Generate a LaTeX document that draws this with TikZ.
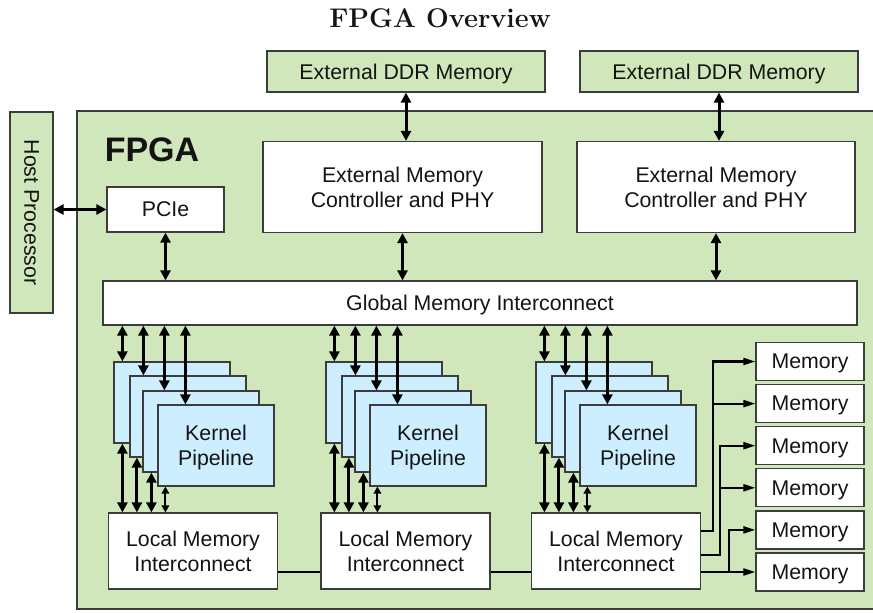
\documentclass[tikz,border=0pt]{standalone}
\usepackage{fontspec}
\newfontfamily\hv{Liberation Sans}
\usetikzlibrary{arrows.meta,calc}
\definecolor{fgreen}{RGB}{207,231,186}
\definecolor{kblue}{RGB}{204,238,255}
\definecolor{edgec}{RGB}{60,60,60}
\definecolor{txt}{RGB}{20,20,20}
\begin{document}
\begin{tikzpicture}[x=1pt,y=-1pt,
  box/.style={draw=edgec, line width=1.2pt, fill=white, inner sep=0pt, align=center,
    font=\hv\fontsize{21.3}{25}\selectfont, text=txt, text depth=0pt},
  gbox/.style={box, fill=fgreen},
  kern/.style={box, fill=kblue, minimum width=116pt, minimum height=81pt},
  membox/.style={box, minimum width=108pt, minimum height=38pt},
  lmibox/.style={box, minimum width=169pt, minimum height=76pt},
  dbl/.style={line width=3pt, {Triangle[length=10pt,width=10pt]}-{Triangle[length=10pt,width=10pt]}},
  sdbl/.style={line width=2pt, {Triangle[length=7pt,width=7.5pt]}-{Triangle[length=7pt,width=7.5pt]}},
  wire/.style={line width=2.2pt},
  marr/.style={line width=2.2pt, -{Triangle[length=12pt,width=7pt]}},
]
\useasboundingbox (0,0) rectangle (873,613);
\fill[white] (0,0) rectangle (873,613);

% title
\node[font=\bfseries\fontsize{27}{32}\selectfont, text=txt] (title) at (440,18) {FPGA Overview};

% FPGA container
\node[gbox, minimum width=810pt, minimum height=498pt] (fpga) at (482,360) {};
\node[font={\hv\bfseries\fontsize{34}{40}\selectfont}, text=txt] (flabel) at (152,150) {FPGA};

% host processor
\node[gbox, minimum width=43pt, minimum height=201pt] (host) at (31.5,212.5) {};
\node[rotate=-90, font=\hv\fontsize{21.3}{25}\selectfont, text=txt] (hostlabel) at (host.center) {Host Processor};

% external memories
\node[gbox, minimum width=278pt, minimum height=41pt] (ddr1) at (406,71.5) {External DDR Memory};
\node[gbox, minimum width=278pt, minimum height=41pt] (ddr2) at (719,71.5) {External DDR Memory};
\node[box, minimum width=279pt, minimum height=91pt] (emc1) at (402.5,187) {External Memory\\Controller and PHY};
\node[box, minimum width=278pt, minimum height=91pt] (emc2) at (716,187) {External Memory\\Controller and PHY};

% PCIe and global interconnect
\node[box, minimum width=117pt, minimum height=45pt] (pcie) at (165.5,209.5) {PCIe};
\node[box, minimum width=754pt, minimum height=44pt] (glob) at (480,303) {Global Memory Interconnect};

% local memory interconnects
\node[lmibox] (lmi1) at (193,551) {Local Memory\\Interconnect};
\node[lmibox] (lmi2) at (405.5,551) {Local Memory\\Interconnect};
\node[lmibox] (lmi3) at (616,551) {Local Memory\\Interconnect};

% memories
\node[membox] (mem1) at (810,361.5) {Memory};
\node[membox] (mem2) at (810,403.6) {Memory};
\node[membox] (mem3) at (810,445.7) {Memory};
\node[membox] (mem4) at (810,487.8) {Memory};
\node[membox] (mem5) at (810,529.9) {Memory};
\node[membox] (mem6) at (810,572) {Memory};

% top connections
\draw[dbl] (host.east |- pcie.west) -- (pcie.west);
\draw[dbl] (pcie.south) -- (pcie.south |- glob.north);
\draw[dbl] (ddr1.south) -- (ddr1.south |- emc1.north);
\draw[dbl] (ddr2.south) -- (ddr2.south |- emc2.north);
\draw[dbl] (emc1.south) -- (emc1.south |- glob.north);
\draw[dbl] (emc2.south) -- (emc2.south |- glob.north);

% kernel stacks
\foreach \s/\x in {1/114,2/326,3/536}{
  \node[kern] (k\s-1) at (\x+58,402.5) {};
  \node[kern] (k\s-2) at (\x+74,416.5) {};
  \node[kern] (k\s-3) at (\x+87,431.5) {};
  \node[kern] (k\s-4) at (\x+102,445.5) {Kernel\\Pipeline};
  % global <-> kernels
  \path ($(k\s-1.north west)+(9,0)$) coordinate (t1)
        ($(k\s-1.north west)+(30,0)$) coordinate (t2)
        ($(k\s-1.north west)+(51,0)$) coordinate (t3)
        ($(k\s-1.north west)+(72,0)$) coordinate (t4);
  \draw[dbl] (t1 |- glob.south) -- (t1 |- k\s-1.north);
  \draw[dbl] (t2 |- glob.south) -- (t2 |- k\s-2.north);
  \draw[dbl] (t3 |- glob.south) -- (t3 |- k\s-3.north);
  \draw[dbl] (t4 |- glob.south) -- (t4 |- k\s-4.north);
  % kernels <-> local memory interconnect
  \path ($(k\s-1.south west)+(9,0)$) coordinate (b1)
        ($(k\s-1.south west)+(23.5,0)$) coordinate (b2)
        ($(k\s-1.south west)+(38,0)$) coordinate (b3)
        ($(k\s-1.south west)+(52,0)$) coordinate (b4);
  \draw[dbl] (b1 |- k\s-1.south) -- (b1 |- lmi\s.north);
  \draw[dbl] (b2 |- k\s-2.south) -- (b2 |- lmi\s.north);
  \draw[dbl] (b3 |- k\s-3.south) -- (b3 |- lmi\s.north);
  \draw[sdbl] (b4 |- k\s-4.south) -- (b4 |- lmi\s.north);
}

% local interconnect chain
\draw[wire] ($(lmi1.east)+(0,21)$) -- ($(lmi2.west)+(0,21)$);
\draw[wire] ($(lmi2.east)+(0,21)$) -- ($(lmi3.west)+(0,21)$);

% local interconnect to memories
\coordinate (o1) at ($(lmi3.east)+(0,-20)$);
\coordinate (o2) at ($(lmi3.east)+(0,4)$);
\coordinate (o3) at ($(lmi3.east)+(0,21)$);
\coordinate (j1) at (713,0);
\coordinate (j2) at (720,0);
\coordinate (j3) at (729,0);
\draw[marr] (o1) -- (o1 -| j1) |- (mem1.west);
\draw[marr] (j1 |- mem2.west) -- (mem2.west);
\draw[marr] (o2) -- (o2 -| j2) |- (mem3.west);
\draw[marr] (j2 |- mem4.west) -- (mem4.west);
\draw[marr] (o3) -- (o3 -| mem6.west);
\draw[marr] (o3 -| j3) |- (mem5.west);
\end{tikzpicture}
\end{document}
